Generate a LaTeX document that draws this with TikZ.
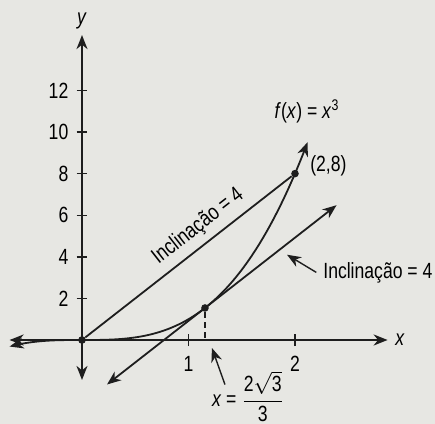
\documentclass[tikz,border=0pt]{standalone}
\usepackage{fontspec}
\setmainfont{Liberation Sans}[FakeStretch=0.8]
\usepackage{amsmath}
\usetikzlibrary{arrows.meta,positioning,calc}
\definecolor{paper}{RGB}{231,231,227}
\definecolor{ink}{RGB}{30,30,30}

\begin{document}
\begin{tikzpicture}[x=53.25pt,y=10.4pt,
font=\fontsize{11}{13}\selectfont,
>={Stealth[length=7pt,width=5.5pt,inset=2.2pt]},
axis/.style={draw=ink,line width=1pt},
curve/.style={draw=ink,line width=0.9pt},
pointer/.style={draw=ink,line width=0.7pt,->},
dot/.style={circle,fill=ink,inner sep=0pt,minimum size=3.8pt}]

% paper
\useasboundingbox (-41pt,-42pt) rectangle (176.5pt,170pt);
\fill[paper] (-41pt,-42pt) rectangle (176.5pt,170pt);

% axes
\coordinate (xl) at (-0.68,0);
\coordinate (xr) at (2.87,0);
\coordinate (yb) at (0,-1.92);
\coordinate (yt) at (0,14.66);
\draw[axis,<->] (xl) -- (xr) node[right=0pt] (xlab) {\textit{x}};
\draw[axis,<->] (yb) -- (yt) node[above=-1pt] (ylab) {\textit{y}};

% ticks
\foreach \k in {2,4,...,12}
  \draw[axis,line width=0.7pt] (-0.05,\k) -- (0.05,\k)
    node[pos=0,left=0.5pt] {\k};
\foreach \k in {1,2}
  \draw[axis,line width=0.7pt] (\k,-0.3) -- (\k,0.3)
    node[pos=0,below=1.5pt] {\k};

% f(x) = x^3
\draw[curve,<->] plot[domain=-0.68:2.12,samples=80] (\x,{\x^3});

\node[dot] (O) at (0,0) {};
\node[dot] (P) at (2,8) {};
\node[dot] (T) at (1.1547,1.5396) {};
\coordinate (Tx) at (1.1547,0);

% secant
\draw[curve] (O) -- (P)
  node[pos=0.6,sloped,above=0pt] (slab) {Inclinação = 4};

% tangent
\coordinate (t1) at (0.235,-2.139);
\coordinate (t2) at (2.39,6.48);
\draw[curve,<->] (t1) -- (t2);
\draw[ink,line width=0.6pt,densely dashed] (T) -- (Tx);

% labels
\node (flab) at (2.113,11.0) {\textit{f}(\textit{x}) = \textit{x}\textsuperscript{3}};
\node[right=2pt of P,yshift=4pt] (plab) {(2,8)};

\node[anchor=west] (tlab) at (2.2,3.25) {Inclinação = 4};
\coordinate (ttip) at (1.925,4.1);
\draw[pointer] (tlab.west) -- (ttip);

\node (xfr) at (1.559,-2.72)
  {\textit{x} = $\dfrac{\mbox{2}\sqrt{\mbox{3}}}{\mbox{3}}$};
\coordinate (xtip) at (1.22,-0.385);
\draw[pointer] ($(xfr.west)+(10pt,6pt)$) -- (xtip);

\end{tikzpicture}
\end{document}
